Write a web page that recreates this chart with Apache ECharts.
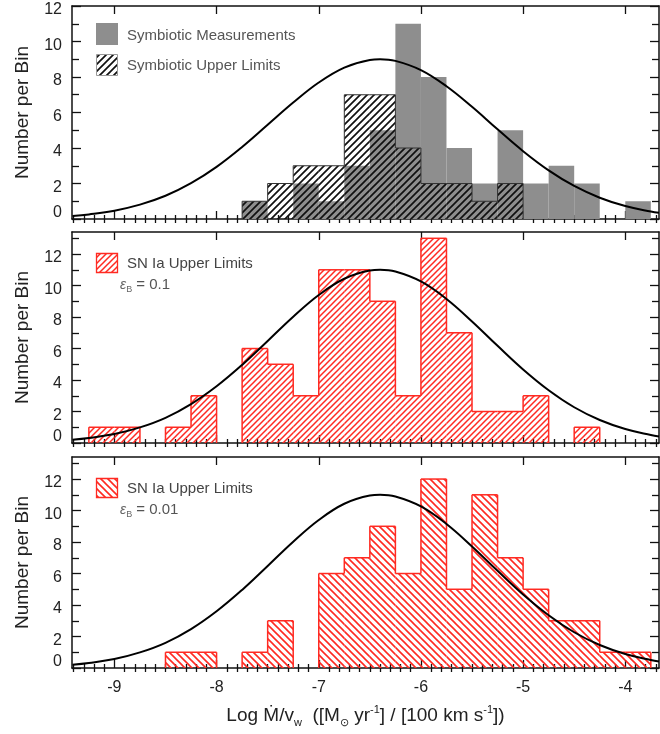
<!DOCTYPE html>
<html>
<head>
<meta charset="utf-8">
<script src="https://cdn.jsdelivr.net/npm/echarts@6/dist/echarts.min.js"></script>
<style>
  html, body { margin: 0; padding: 0; background: #fff; }
  #chart { width: 660px; height: 734px; }
</style>
</head>
<body>
<div id="chart"></div>
<script>
// ---- data -------------------------------------------------------------
// left edges of the 0.25 dex histogram bins
const binLeft = [-9.25, -9.0, -8.75, -8.5, -8.25, -8.0, -7.75, -7.5, -7.25, -7.0, -6.75,
                 -6.5, -6.25, -6.0, -5.75, -5.5, -5.25, -5.0, -4.75, -4.5, -4.25, -4.0];
const binWidth = 0.25;

// symbiotic systems: measured values (grey) and upper limits (hatched)
const symMeasured = [0, 0, 0, 0, 0, 0, 1, 0, 2, 1, 3, 5, 11, 8, 4, 2, 5, 2, 3, 2, 0, 1];
const symUpper    = [0, 0, 0, 0, 0, 0, 1, 2, 3, 3, 7, 7, 4, 2, 2, 1, 2, 0, 0, 0, 0, 0];

// SN Ia upper limits for two values of epsilon_B
const snEps01  = [1, 1, 0, 1, 3, 0, 6, 5, 3, 11, 11, 9, 3, 13, 7, 2, 2, 3, 0, 1, 0, 0];
const snEps001 = [0, 0, 0, 1, 1, 0, 1, 3, 0, 6, 7, 9, 6, 12, 5, 11, 7, 5, 3, 3, 1, 1];

// fitted distribution curve, sampled along the axis
const curveX   = [-9.41, -9.25, -9.0, -8.75, -8.5, -8.25, -8.0, -7.75, -7.5, -7.25, -7.0, -6.75, -6.5, -6.4,
                  -6.25, -6.0, -5.75, -5.5, -5.25, -5.0, -4.75, -4.5, -4.25, -4.0, -3.75, -3.67];
const symCurve = [0.17, 0.26, 0.47, 0.81, 1.31, 2.02, 2.94, 4.06, 5.31, 6.56, 7.69, 8.53, 8.96, 9.0,
                  8.91, 8.39, 7.48, 6.32, 5.05, 3.82, 2.74, 1.86, 1.20, 0.73, 0.42, 0.35];
const snCurve  = [0.21, 0.32, 0.57, 0.99, 1.60, 2.47, 3.60, 4.96, 6.48, 8.02, 9.40, 10.43, 10.95, 11.0,
                  10.89, 10.26, 9.15, 7.72, 6.17, 4.67, 3.35, 2.27, 1.46, 0.89, 0.51, 0.42];

// axis ticks and labels
const xTicks = [-9, -8, -7, -6, -5, -4];
const yTicks = [0, 2, 4, 6, 8, 10, 12];
const yLabelText = 'Number per Bin';
const legendSym = ['Symbiotic Measurements', 'Symbiotic Upper Limits'];
const legendSn = 'SN Ia Upper Limits';
const epsValues = ['0.1', '0.01'];

// ---- styling helpers ---------------------------------------------------
const FONT = '"Liberation Sans", Arial, Helvetica, sans-serif';
const RED = '#ff2a22';
const GREY = '#8e8e8e';
const xMin = -9.415, xMax = -3.67;
const yMaxes = [12, 13.4, 13.4];

// minor tick positions every 0.1 along x and every 1 along y
const xMinor = [];
for (let v = -94; v <= -37; v++) if (v % 10 !== 0) xMinor.push(v / 10);
const yMinorAll = [1, 3, 5, 7, 9, 11, 13];

// diagonal line pattern; dir > 0 rises to the right, dir < 0 falls
function hatch(color, size, width, dir) {
  const c = document.createElement('canvas');
  c.width = size; c.height = size;
  const ctx = c.getContext('2d');
  ctx.strokeStyle = color;
  ctx.lineWidth = width;
  ctx.beginPath();
  if (dir > 0) {
    ctx.moveTo(-1, size + 1); ctx.lineTo(size + 1, -1);
    ctx.moveTo(-size / 2 - 1, size / 2 + 1); ctx.lineTo(size / 2 + 1, -size / 2 - 1);
    ctx.moveTo(size / 2 - 1, size * 1.5 + 1); ctx.lineTo(size * 1.5 + 1, size / 2 - 1);
  } else {
    ctx.moveTo(-1, -1); ctx.lineTo(size + 1, size + 1);
    ctx.moveTo(-size / 2 - 1, size / 2 - 1); ctx.lineTo(size / 2 + 1, size * 1.5 + 1);
    ctx.moveTo(size / 2 - 1, -size / 2 - 1); ctx.lineTo(size * 1.5 + 1, size / 2 + 1);
  }
  ctx.stroke();
  return { image: c, repeat: 'repeat' };
}
const hatchBlack = hatch('#111', 7, 1.7, 1);
const hatchRedUp = hatch(RED, 6, 1.5, 1);
const hatchRedDown = hatch(RED, 7, 1.6, -1);

// one row per bin: [left, right, count, previous count, isLast]
function stepRows(counts) {
  return counts.map((h, i) => [binLeft[i], binLeft[i] + binWidth, h,
                               i === 0 ? 0 : counts[i - 1], i === counts.length - 1 ? 1 : 0]);
}

// histogram bins: optional fill plus a stepped outline
function stepRender(fill, stroke, lw) {
  return function (params, api) {
    const left = api.value(0), right = api.value(1), h = api.value(2), prev = api.value(3), last = api.value(4);
    const p0 = api.coord([left, 0]);
    const p1 = api.coord([right, h]);
    const pp = api.coord([left, prev]);
    const children = [];
    if (fill && h > 0) {
      children.push({ type: 'rect', shape: { x: p0[0], y: p1[1], width: p1[0] - p0[0], height: p0[1] - p1[1] },
                      style: { fill: fill } });
    }
    if (stroke) {
      const ls = { stroke: stroke, lineWidth: lw };
      if (prev !== h) children.push({ type: 'line', shape: { x1: p0[0], y1: pp[1], x2: p0[0], y2: p1[1] }, style: ls });
      if (h > 0) children.push({ type: 'line', shape: { x1: p0[0], y1: p1[1], x2: p1[0], y2: p1[1] }, style: ls });
      if (last && h > 0) children.push({ type: 'line', shape: { x1: p1[0], y1: p1[1], x2: p1[0], y2: p0[1] }, style: ls });
    }
    return { type: 'group', children: children };
  };
}

function histSeries(g, counts, fill, stroke, lw, z) {
  return {
    type: 'custom', xAxisIndex: g * 4, yAxisIndex: g * 4, z: z,
    renderItem: stepRender(fill, stroke, lw),
    encode: { x: [0, 1], y: 2 },
    data: stepRows(counts),
    clip: true, silent: true
  };
}

function curveSeries(g, values) {
  return {
    type: 'line', xAxisIndex: g * 4, yAxisIndex: g * 4, z: 10,
    data: curveX.map((x, i) => [x, values[i]]),
    smooth: 0.4, showSymbol: false, symbol: 'none', clip: true, silent: true,
    lineStyle: { color: '#000', width: 2 }
  };
}

// ---- grids and axes -----------------------------------------------------
const grids = [
  { left: 72, right: 1, top: 6, height: 213, outerBoundsMode: 'none' },
  { left: 72, right: 1, top: 232, height: 211, outerBoundsMode: 'none' },
  { left: 72, right: 1, top: 457, height: 211, outerBoundsMode: 'none' }
];

const axisLine = { show: true, onZero: false, lineStyle: { color: '#111', width: 1.5 } };
const tickStyle = { color: '#111', width: 1.3 };

const xAxes = [];
const yAxes = [];
grids.forEach((gr, g) => {
  const xb = { type: 'value', gridIndex: g, min: xMin, max: xMax, splitLine: { show: false } };
  const bottomMain = Object.assign({}, xb, {
    position: 'bottom', axisLine: axisLine,
    axisTick: { inside: true, length: 8, customValues: xTicks, lineStyle: tickStyle },
    axisLabel: { show: g === 2, customValues: xTicks, margin: 12, fontSize: 16, fontFamily: FONT, color: '#222' }
  });
  if (g === 2) {
    Object.assign(bottomMain, {
      name: '{t|Log }{t|Ṁ}{t|/v}{s|w}{t|  ([M}{s|⊙}{t| yr}{p|-1}{t|] / [100 km s}{p|-1}{t|])}',
      nameLocation: 'middle', nameGap: 36,
      nameTextStyle: {
        fontFamily: FONT, color: '#222',
        rich: {
          t: { fontSize: 19, fontFamily: FONT, color: '#222', lineHeight: 24 },
          s: { fontSize: 11, fontFamily: FONT, color: '#222', lineHeight: 13, verticalAlign: 'bottom' },
          p: { fontSize: 11, fontFamily: FONT, color: '#222', lineHeight: 13, verticalAlign: 'top' }
        }
      }
    });
  }
  xAxes.push(bottomMain);
  xAxes.push(Object.assign({}, xb, {
    position: 'bottom', axisLine: { show: false },
    axisTick: { inside: true, length: 4, customValues: xMinor, lineStyle: tickStyle },
    axisLabel: { show: false }
  }));
  xAxes.push(Object.assign({}, xb, {
    position: 'top', axisLine: axisLine,
    axisTick: { inside: true, length: 8, customValues: xTicks, lineStyle: tickStyle },
    axisLabel: { show: false }
  }));
  xAxes.push(Object.assign({}, xb, {
    position: 'top', axisLine: { show: false },
    axisTick: { inside: true, length: 4, customValues: xMinor, lineStyle: tickStyle },
    axisLabel: { show: false }
  }));

  const yMax = yMaxes[g];
  const yMinor = yMinorAll.filter(v => v < yMax);
  const yb = { type: 'value', gridIndex: g, min: 0, max: yMax, splitLine: { show: false } };
  const labelStyle = { fontSize: 16, fontFamily: FONT, color: '#222' };
  yAxes.push(Object.assign({}, yb, {
    position: 'left', axisLine: axisLine,
    axisTick: { inside: true, length: 9, customValues: yTicks, lineStyle: tickStyle },
    axisLabel: {
      customValues: yTicks, margin: 10,
      // the zero label sits just above the baseline, the others slightly below their tick
      formatter: v => (v === 0 ? '{z|' : '{n|') + v + '}',
      rich: {
        n: Object.assign({ padding: [8, 0, 0, 0] }, labelStyle),
        z: Object.assign({ padding: [0, 0, 12, 0] }, labelStyle)
      }
    },
    name: yLabelText, nameLocation: 'middle', nameGap: 40, nameRotate: 90,
    nameTextStyle: { fontSize: 19, fontFamily: FONT, color: '#222' }
  }));
  yAxes.push(Object.assign({}, yb, {
    position: 'left', axisLine: { show: false },
    axisTick: { inside: true, length: 7, customValues: yMinor, lineStyle: tickStyle },
    axisLabel: { show: false }
  }));
  yAxes.push(Object.assign({}, yb, {
    position: 'right', axisLine: axisLine,
    axisTick: { inside: true, length: 9, customValues: yTicks, lineStyle: tickStyle },
    axisLabel: { show: false }
  }));
  yAxes.push(Object.assign({}, yb, {
    position: 'right', axisLine: { show: false },
    axisTick: { inside: true, length: 7, customValues: yMinor, lineStyle: tickStyle },
    axisLabel: { show: false }
  }));
});

// ---- legend boxes and notes --------------------------------------------
const txt = (x, y, text, size, color) => ({
  type: 'text', x: x, y: y, z: 20,
  style: { text: text, fontSize: size, fontFamily: FONT, fill: color, verticalAlign: 'middle' }
});
const epsText = (x, y, val) => ({
  type: 'text', x: x, y: y, z: 20,
  style: {
    text: '{e|ε}{b|B}{t| = ' + val + '}', verticalAlign: 'middle',
    rich: {
      e: { fontSize: 14, fontStyle: 'italic', fontFamily: FONT, fill: '#666', lineHeight: 18 },
      b: { fontSize: 9, fontFamily: FONT, fill: '#666', lineHeight: 11, verticalAlign: 'bottom' },
      t: { fontSize: 15, fontFamily: FONT, fill: '#555', lineHeight: 18 }
    }
  }
});

const graphic = [
  { type: 'rect', z: 20, shape: { x: 96, y: 23, width: 22, height: 22 }, style: { fill: GREY } },
  txt(127, 36, legendSym[0], 15, '#555'),
  { type: 'rect', z: 20, shape: { x: 96.5, y: 54.5, width: 21, height: 21 }, style: { fill: hatchBlack, stroke: '#999', lineWidth: 1 } },
  txt(127, 66, legendSym[1], 15, '#555'),

  { type: 'rect', z: 20, shape: { x: 96.5, y: 253.5, width: 21, height: 19 }, style: { fill: hatchRedUp, stroke: RED, lineWidth: 1.3 } },
  txt(127, 264, legendSn, 15, '#444'),
  epsText(120, 285, epsValues[0]),

  { type: 'rect', z: 20, shape: { x: 96.5, y: 478.5, width: 21, height: 19 }, style: { fill: hatchRedDown, stroke: RED, lineWidth: 1.3 } },
  txt(127, 489, legendSn, 15, '#444'),
  epsText(120, 510, epsValues[1])
];

// ---- chart -------------------------------------------------------------
const chart = echarts.init(document.getElementById('chart'), null, { renderer: 'canvas' });
chart.setOption({
  animation: false,
  backgroundColor: '#fff',
  grid: grids,
  xAxis: xAxes,
  yAxis: yAxes,
  graphic: graphic,
  series: [
    histSeries(0, symMeasured, GREY, null, 0, 2),
    histSeries(0, symUpper, hatchBlack, '#333', 1, 3),
    curveSeries(0, symCurve),
    histSeries(1, snEps01, hatchRedUp, RED, 1.5, 3),
    curveSeries(1, snCurve),
    histSeries(2, snEps001, hatchRedDown, RED, 1.5, 3),
    curveSeries(2, snCurve)
  ]
});
</script>
</body>
</html>
